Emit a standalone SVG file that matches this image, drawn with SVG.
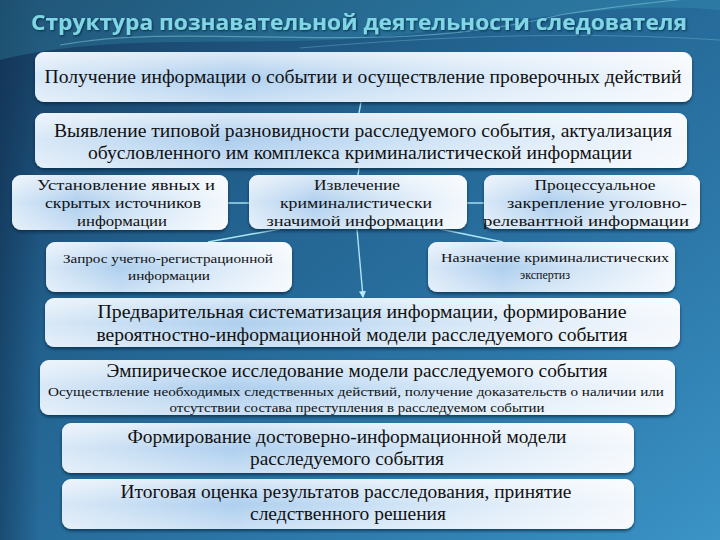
<svg xmlns="http://www.w3.org/2000/svg" width="720" height="540" viewBox="0 0 720 540">
<defs>
<linearGradient id="bg" x1="0" y1="0" x2="1" y2="1">
<stop offset="0" stop-color="#163a5e"/>
<stop offset="0.35" stop-color="#22618e"/>
<stop offset="0.7" stop-color="#2c78a9"/>
<stop offset="1" stop-color="#3b93c6"/>
</linearGradient>
<linearGradient id="side" x1="0" y1="0" x2="1" y2="0">
<stop offset="0" stop-color="#0e2c4a" stop-opacity="0.5"/>
<stop offset="1" stop-color="#0e2c4a" stop-opacity="0"/>
</linearGradient>
<linearGradient id="box" x1="0" y1="0" x2="1" y2="0">
<stop offset="0" stop-color="#d8e8f7"/>
<stop offset="0.3" stop-color="#aecfee"/>
<stop offset="0.6" stop-color="#d0e4f6"/>
<stop offset="1" stop-color="#f4f8fd"/>
</linearGradient>
<linearGradient id="gloss" x1="0" y1="0" x2="0" y2="1">
<stop offset="0" stop-color="#ffffff" stop-opacity="0.55"/>
<stop offset="0.5" stop-color="#ffffff" stop-opacity="0"/>
<stop offset="1" stop-color="#ffffff" stop-opacity="0.35"/>
</linearGradient>
<filter id="sh" x="-5%" y="-10%" width="110%" height="130%">
<feDropShadow dx="0" dy="2" stdDeviation="1.5" flood-color="#06203a" flood-opacity="0.7"/>
</filter>
<filter id="tsh" x="-5%" y="-20%" width="110%" height="150%">
<feDropShadow dx="1" dy="1" stdDeviation="0.8" flood-color="#05203a" flood-opacity="0.8"/>
</filter>
<marker id="ah" viewBox="0 0 6 6" refX="5" refY="3" markerWidth="5" markerHeight="5" orient="auto">
<path d="M0,0 L6,3 L0,6 z" fill="#b8ecf8"/>
</marker>
<style>
.b{fill:url(#box);filter:url(#sh)}
.g{fill:url(#gloss)}
.c{stroke:#aee6f5;stroke-width:1.4;fill:none}
</style>
</defs>
<rect width="720" height="540" fill="url(#bg)"/>
<rect width="40" height="540" fill="url(#side)"/>
<path d="M0,60 C120,30 260,50 400,35 C520,22 620,0 720,10 L720,0 L0,0 z" fill="#3fa6c4" opacity="0.25"/>
<path d="M60,45 C200,20 380,60 560,15 C620,5 680,0 720,-5" stroke="#8fdbe8" stroke-width="1.2" fill="none" opacity="0.45"/>
<path d="M300,48 C420,38 560,30 720,40" stroke="#8fdbe8" stroke-width="1" fill="none" opacity="0.3"/>
<text x="359" y="30" font-family="Open Sans, Liberation Sans, sans-serif" font-weight="bold" font-size="21" fill="#7fd6e4" text-anchor="middle" textLength="656" lengthAdjust="spacingAndGlyphs" filter="url(#tsh)">Структура познавательной деятельности следователя</text>

<g id="connectors">
<line class="c" x1="361" y1="102" x2="359" y2="113"/>
<line class="c" x1="359" y1="168" x2="358" y2="175"/>
<line class="c" x1="228" y1="203" x2="249" y2="203"/>
<line class="c" x1="467" y1="203" x2="484" y2="203"/>
<line class="c" x1="280" y1="229" x2="208" y2="242"/>
<line class="c" x1="440" y1="229" x2="503" y2="242"/>
<line class="c" x1="357" y1="229" x2="363" y2="297" marker-end="url(#ah)"/>
</g>

<g font-family="Liberation Serif, DejaVu Serif, serif" fill="#111" text-anchor="middle">
<g id="n1">
<rect class="b" x="35" y="52" width="657" height="50" rx="9"/>
<rect class="g" x="35" y="52" width="657" height="50" rx="9"/>
<text x="363" y="83" font-size="18" textLength="637" lengthAdjust="spacingAndGlyphs">Получение информации о событии и осуществление проверочных действий</text>
</g>
<g id="n2">
<rect class="b" x="35" y="113" width="652" height="55" rx="9"/>
<rect class="g" x="35" y="113" width="652" height="55" rx="9"/>
<text x="363" y="137" font-size="18" textLength="618" lengthAdjust="spacingAndGlyphs">Выявление типовой разновидности расследуемого события, актуализация</text>
<text x="360" y="159" font-size="18" textLength="544" lengthAdjust="spacingAndGlyphs">обусловленного им комплекса криминалистической информации</text>
</g>
<g id="n3a">
<rect class="b" x="12" y="175" width="216" height="55" rx="9"/>
<rect class="g" x="12" y="175" width="216" height="55" rx="9"/>
<text x="126" y="190" font-size="15" textLength="178" lengthAdjust="spacingAndGlyphs">Установление явных и</text>
<text x="123" y="208" font-size="15" textLength="156" lengthAdjust="spacingAndGlyphs">скрытых источников</text>
<text x="122" y="226" font-size="15" textLength="90" lengthAdjust="spacingAndGlyphs">информации</text>
</g>
<g id="n3b">
<rect class="b" x="249" y="175" width="218" height="54" rx="9"/>
<rect class="g" x="249" y="175" width="218" height="54" rx="9"/>
<text x="357" y="190" font-size="15" textLength="86" lengthAdjust="spacingAndGlyphs">Извлечение</text>
<text x="356" y="208" font-size="15" textLength="152" lengthAdjust="spacingAndGlyphs">криминалистически</text>
<text x="355" y="226" font-size="15" textLength="177" lengthAdjust="spacingAndGlyphs">значимой информации</text>
</g>
<g id="n3c">
<rect class="b" x="484" y="175" width="216" height="54" rx="9"/>
<rect class="g" x="484" y="175" width="216" height="54" rx="9"/>
<text x="595" y="190" font-size="15" textLength="121" lengthAdjust="spacingAndGlyphs">Процессуальное</text>
<text x="597" y="208" font-size="15" textLength="180" lengthAdjust="spacingAndGlyphs">закрепление уголовно-</text>
<text x="586" y="226" font-size="15" textLength="206" lengthAdjust="spacingAndGlyphs">релевантной информации</text>
</g>
<g id="n4a">
<rect class="b" x="46" y="242" width="246" height="50" rx="9"/>
<rect class="g" x="46" y="242" width="246" height="50" rx="9"/>
<text x="168" y="263" font-size="13" textLength="210" lengthAdjust="spacingAndGlyphs">Запрос учетно-регистрационной</text>
<text x="169" y="280" font-size="13" textLength="82" lengthAdjust="spacingAndGlyphs">информации</text>
</g>
<g id="n4b">
<rect class="b" x="428" y="242" width="247" height="50" rx="9"/>
<rect class="g" x="428" y="242" width="247" height="50" rx="9"/>
<text x="555" y="262" font-size="13" textLength="228" lengthAdjust="spacingAndGlyphs">Назначение криминалистических</text>
<text x="545" y="279" font-size="13" textLength="50" lengthAdjust="spacingAndGlyphs">экспертиз</text>
</g>
<g id="n5">
<rect class="b" x="45" y="298" width="635" height="49" rx="9"/>
<rect class="g" x="45" y="298" width="635" height="49" rx="9"/>
<text x="362" y="318" font-size="19" textLength="529" lengthAdjust="spacingAndGlyphs">Предварительная систематизация информации, формирование</text>
<text x="362" y="341" font-size="19" textLength="531" lengthAdjust="spacingAndGlyphs">вероятностно-информационной модели расследуемого события</text>
</g>
<g id="n6">
<rect class="b" x="40" y="360" width="635" height="55" rx="9"/>
<rect class="g" x="40" y="360" width="635" height="55" rx="9"/>
<text x="357" y="377" font-size="18" textLength="501" lengthAdjust="spacingAndGlyphs">Эмпирическое исследование модели расследуемого события</text>
<text x="356" y="396" font-size="13" textLength="616" lengthAdjust="spacingAndGlyphs">Осуществление необходимых следственных действий, получение доказательств о наличии или</text>
<text x="357" y="412" font-size="13" textLength="375" lengthAdjust="spacingAndGlyphs">отсутствии состава преступления в расследуемом событии</text>
</g>
<g id="n7">
<rect class="b" x="62" y="423" width="572" height="50" rx="9"/>
<rect class="g" x="62" y="423" width="572" height="50" rx="9"/>
<text x="347" y="443" font-size="18" textLength="439" lengthAdjust="spacingAndGlyphs">Формирование достоверно-информационной модели</text>
<text x="347" y="465" font-size="18" textLength="194" lengthAdjust="spacingAndGlyphs">расследуемого события</text>
</g>
<g id="n8">
<rect class="b" x="62" y="479" width="572" height="50" rx="9"/>
<rect class="g" x="62" y="479" width="572" height="50" rx="9"/>
<text x="346" y="498" font-size="18" textLength="451" lengthAdjust="spacingAndGlyphs">Итоговая оценка результатов расследования, принятие</text>
<text x="348" y="520" font-size="18" textLength="196" lengthAdjust="spacingAndGlyphs">следственного решения</text>
</g>
</g>
</svg>
